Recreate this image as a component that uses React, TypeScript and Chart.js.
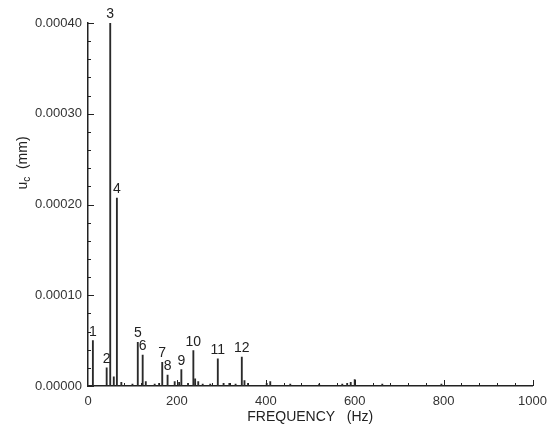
import React, { useEffect, useRef } from 'react';
import { Chart, registerables } from 'chart.js';

Chart.register(...registerables);

// Numbered peaks
const peakLabels = ['1', '2', '3', '4', '5', '6', '7', '8', '9', '10', '11', '12'];
const peakFreqs = [11, 42, 50, 65, 112, 123, 167, 179, 210, 237, 292, 346];
const peakValues = [0.00005, 0.00002, 0.0004, 0.000207, 0.000048, 0.000034, 0.000026, 0.000012, 0.000018, 0.000039, 0.00003, 0.000032];

// Small unlabelled spikes
const minorFreqs = [58, 75, 100, 130, 150, 160, 195, 205, 225, 241, 248, 258, 275, 305, 318, 332, 352, 360, 402, 410, 455, 520, 572, 583, 591, 600, 662, 795];
const minorValues = [0.00001, 0.000004, 0.000002, 0.000005, 0.000002, 0.000003, 0.000005, 0.000004, 0.000003, 0.000008, 0.000005, 0.000002, 0.000002, 0.000003, 0.000003, 0.000002, 0.000006, 0.000003, 0.000003, 0.000005, 0.000002, 0.000002, 0.000002, 0.000003, 0.000004, 0.000007, 0.000002, 0.000002];

const xTickLabels = ['0', '200', '400', '600', '800', '1000'];
const yTickLabels = ['0.00000', '0.00010', '0.00020', '0.00030', '0.00040'];
const xTitle = 'FREQUENCY   (Hz)';
const yTitleMain = 'u';
const yTitleSub = 'c';
const yTitleRest = '  (mm)';

const INK = '#222';
const BAR = '#2a2a2a';
const FONT = '"Liberation Sans", Arial, sans-serif';

const overlay = {
  id: 'overlay',
  afterDraw(chart: any) {
    const { ctx, chartArea: ca, scales } = chart;
    const x = scales.x;
    const y = scales.y;
    ctx.save();
    ctx.strokeStyle = INK;
    ctx.lineWidth = 1;
    // inward y ticks
    for (let i = 0; i <= 20; i++) {
      const py = Math.round(y.getPixelForValue(i * 0.00002)) + 0.5;
      const len = i % 5 === 0 ? 6 : 3;
      ctx.beginPath();
      ctx.moveTo(ca.left, py);
      ctx.lineTo(ca.left + len, py);
      ctx.stroke();
    }
    // inward x ticks
    for (let i = 1; i <= 25; i++) {
      const px = Math.round(x.getPixelForValue(i * 40)) + 0.5;
      const len = i % 5 === 0 ? 6 : 3;
      ctx.beginPath();
      ctx.moveTo(px, ca.bottom);
      ctx.lineTo(px, ca.bottom - len);
      ctx.stroke();
    }
    // peak labels
    ctx.fillStyle = INK;
    ctx.font = '14px ' + FONT;
    ctx.textAlign = 'center';
    ctx.textBaseline = 'alphabetic';
    peakLabels.forEach((lab, i) => {
      const px = x.getPixelForValue(peakFreqs[i]);
      const py = y.getPixelForValue(peakValues[i]);
      ctx.fillText(lab, px, py - 5);
    });
    // x title
    ctx.font = '14px ' + FONT;
    ctx.textBaseline = 'middle';
    ctx.fillText(xTitle, (ca.left + ca.right) / 2, 417);
    // y title with subscript
    ctx.translate(22, 163);
    ctx.rotate(-Math.PI / 2);
    ctx.textAlign = 'left';
    ctx.textBaseline = 'alphabetic';
    const mainFont = '14px ' + FONT;
    const subFont = '10px ' + FONT;
    ctx.font = mainFont;
    const w1 = ctx.measureText(yTitleMain).width;
    const w3 = ctx.measureText(yTitleRest).width;
    ctx.font = subFont;
    const w2 = ctx.measureText(yTitleSub).width;
    const total = w1 + w2 + w3;
    let cx = -total / 2;
    const base = 5;
    ctx.font = mainFont;
    ctx.fillText(yTitleMain, cx, base);
    cx += w1;
    ctx.font = subFont;
    ctx.fillText(yTitleSub, cx, base + 3);
    cx += w2;
    ctx.font = mainFont;
    ctx.fillText(yTitleRest, cx, base);
    ctx.restore();
  },
};

export default function App() {
  const ref = useRef<HTMLCanvasElement>(null);
  useEffect(() => {
    if (!ref.current) return;
    const pts = [
      ...peakFreqs.map((f, i) => ({ x: f, y: peakValues[i] })),
      ...minorFreqs.map((f, i) => ({ x: f, y: minorValues[i] })),
    ].sort((a, b) => a.x - b.x);
    const chart = new Chart(ref.current, {
      type: 'bar',
      data: {
        datasets: [
          {
            data: pts as any,
            backgroundColor: BAR,
            borderWidth: 0,
            barThickness: 1.2,
            grouped: false,
          } as any,
        ],
      },
      options: {
        animation: false,
        responsive: true,
        maintainAspectRatio: false,
        layout: { padding: { top: 23, right: 19, left: 0, bottom: 0 } },
        plugins: { legend: { display: false }, tooltip: { enabled: false }, title: { display: false } },
        scales: {
          x: {
            type: 'linear',
            offset: false,
            min: 0,
            max: 1000,
            grid: { display: false, drawTicks: false },
            border: { display: true, color: INK, width: 1.5 },
            ticks: {
              stepSize: 200,
              padding: 8,
              color: '#333',
              font: { family: FONT, size: 13 },
              maxRotation: 0,
              callback: (v: any) => xTickLabels[Math.round(Number(v) / 200)] ?? '',
            },
            afterFit: (s: any) => {
              s.height = 45;
            },
          },
          y: {
            type: 'linear',
            min: 0,
            max: 0.0004,
            grid: { display: false, drawTicks: false },
            border: { display: true, color: INK, width: 1.5 },
            ticks: {
              stepSize: 0.0001,
              padding: 6,
              color: '#333',
              font: { family: FONT, size: 13 },
              callback: (v: any) => yTickLabels[Math.round(Number(v) / 0.0001)] ?? '',
            },
            afterFit: (s: any) => {
              s.width = 88;
            },
          },
        },
      },
      plugins: [overlay],
    });
    return () => chart.destroy();
  }, []);
  return (
    <div style={{ position: 'fixed', left: 0, top: 0, width: 555, height: 431, background: '#fff' }}>
      <canvas ref={ref} />
    </div>
  );
}
